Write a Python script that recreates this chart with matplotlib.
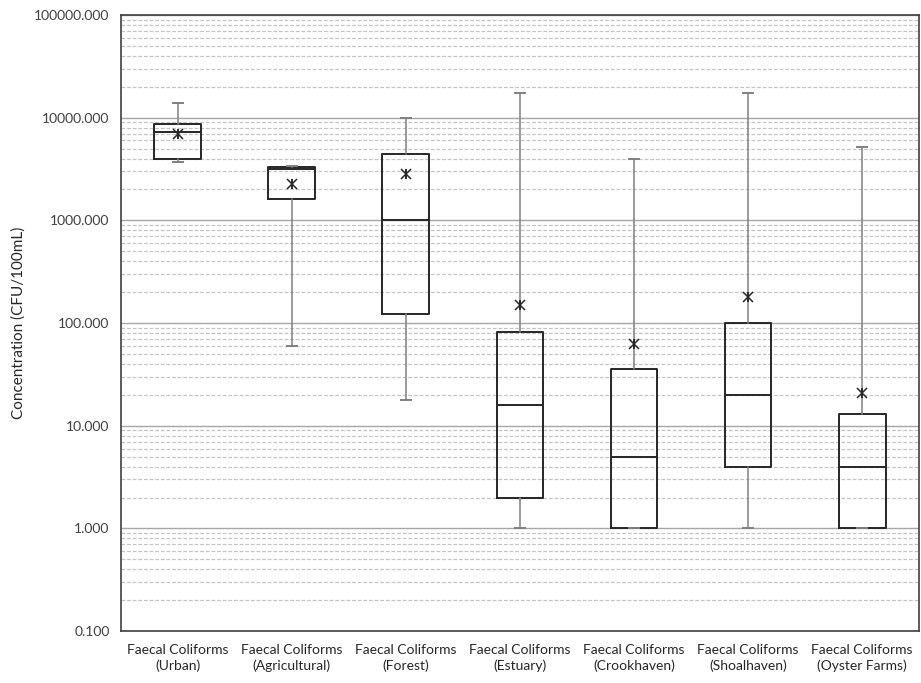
import matplotlib
matplotlib.use('Agg')
from matplotlib import pyplot as plt
from matplotlib.ticker import LogLocator, FormatStrFormatter, NullFormatter

plt.rcParams['font.family'] = ['Lato', 'DejaVu Sans']

categorias = ['Faecal Coliforms\n(Urban)', 'Faecal Coliforms\n(Agricultural)', 'Faecal Coliforms\n(Forest)',
              'Faecal Coliforms\n(Estuary)', 'Faecal Coliforms\n(Crookhaven)', 'Faecal Coliforms\n(Shoalhaven)',
              'Faecal Coliforms\n(Oyster Farms)']
minimo = [3700, 60, 18, 1, 1, 1, 1]
q1 = [4000, 1630, 122, 2, 1, 4, 1]
mediana = [7200, 3140, 1000, 16, 5, 20, 4]
q3 = [8600, 3300, 4430, 82, 36, 100, 13]
maximo = [14000, 3400, 10000, 17500, 4000, 17500, 5200]
media = [7000, 2240, 2820, 150, 63, 178, 21]

stats = []
for i in range(len(categorias)):
    stats.append({'whislo': minimo[i], 'q1': q1[i], 'med': mediana[i], 'q3': q3[i],
                  'whishi': maximo[i], 'mean': media[i], 'fliers': []})

fig = plt.figure(figsize=(9.21, 6.83), dpi=100)
ax = fig.add_axes([0.131, 0.076, 0.867, 0.902])

pos = list(range(1, len(categorias) + 1))
ax.bxp(stats, positions=pos, widths=0.41, capwidths=0.09, showmeans=False, showfliers=False,
       boxprops=dict(color='#262626', linewidth=1.4),
       medianprops=dict(color='#262626', linewidth=1.4),
       whiskerprops=dict(color='#808080', linewidth=1.1),
       capprops=dict(color='#808080', linewidth=1.4),
       zorder=3)

# marcador da media (x com barra vertical, estilo Excel)
ax.plot(pos, media, linestyle='none', marker='x', color='#262626', markersize=7, markeredgewidth=1.1, zorder=4)
ax.plot(pos, media, linestyle='none', marker='|', color='#262626', markersize=7, markeredgewidth=1.4, zorder=4)

ax.set_yscale('log')
ax.set_ylim(0.1, 100000)
ax.set_xlim(0.5, len(categorias) + 0.5)
ax.yaxis.set_major_locator(LogLocator(base=10, numticks=10))
ax.yaxis.set_minor_locator(LogLocator(base=10, subs=range(2, 10), numticks=20))
ax.yaxis.set_major_formatter(FormatStrFormatter('%.3f'))
ax.yaxis.set_minor_formatter(NullFormatter())

ax.grid(True, which='major', axis='y', color='#a6a6a6', linewidth=1, linestyle='-', zorder=0)
ax.grid(True, which='minor', axis='y', color='#c4c4c4', linewidth=0.9, linestyle='--', dashes=(3, 1.5), zorder=0)
ax.set_axisbelow(True)

ax.set_xticks(pos)
ax.set_xticklabels(categorias, fontsize=10, color='#262626', linespacing=1.4)
ax.tick_params(axis='x', which='both', length=0, pad=9)
ax.tick_params(axis='y', which='both', length=0, labelsize=10, labelcolor='#404040', pad=8)
ax.set_ylabel('Concentration (CFU/100mL)', fontsize=11, color='#262626', labelpad=6)

for s in ax.spines.values():
    s.set_color('#404040')
    s.set_linewidth(1.2)

plt.savefig('out.png', dpi=100)
